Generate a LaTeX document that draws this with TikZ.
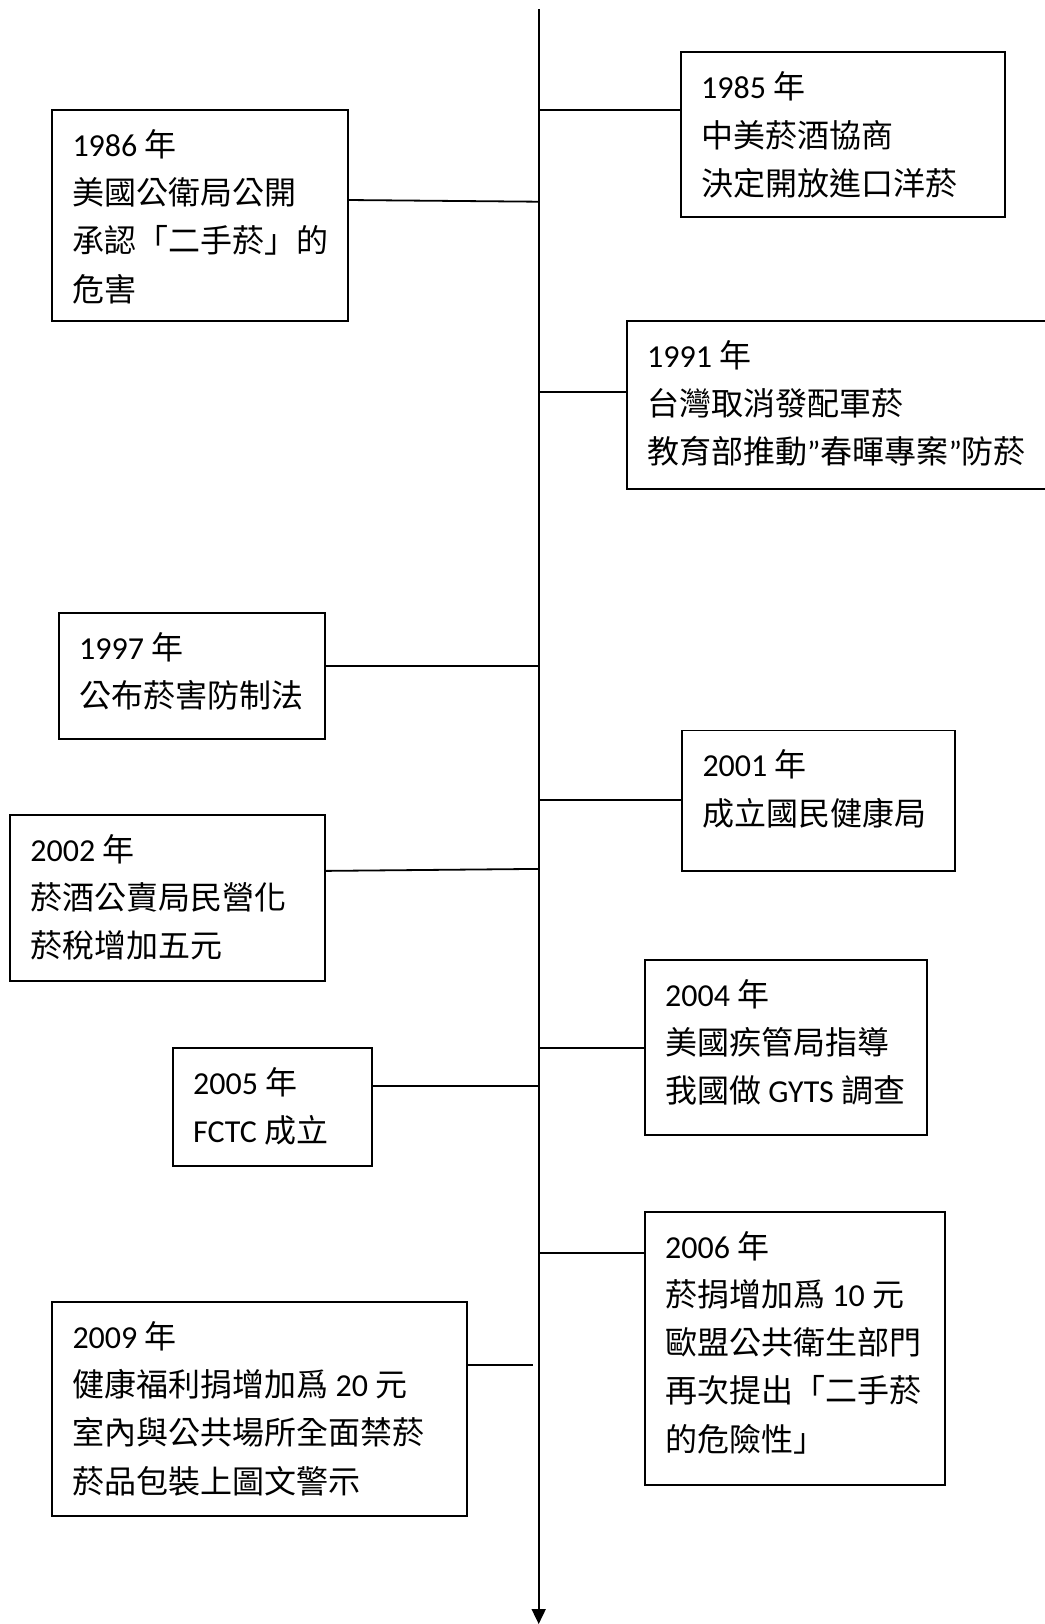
\documentclass[tikz,border=0pt]{standalone}
\usepackage{fontspec}
\setmainfont{Carlito}
\newfontfamily\cjk{Noto Sans CJK TC}
\newcommand\zh[1]{{\cjk #1}}
\usetikzlibrary{arrows.meta,calc}
\begin{document}
\begin{tikzpicture}[x=0.5pt,y=-0.5pt,
  box/.style={draw, line width=0.9pt, inner sep=0pt, outer sep=0pt, anchor=north west},
  wh/.style 2 args={minimum width=#1*0.5pt, minimum height=#2*0.5pt},
  txt/.style={inner sep=0pt, outer sep=0pt, anchor=base west, font=\fontsize{16}{24.1}\selectfont},
  link/.style={line width=0.9pt}]
\useasboundingbox (0,0) rectangle (1045,1624);
\clip (0,0) rectangle (1045,1624);

% axis
\coordinate (top) at (538.7,9.3);
\coordinate (bot) at (538.7,1624);
\draw[link,-{Triangle[width=7pt,length=7.5pt]}] (top) -- (bot);

% boxes
\node[box,wh={324}{164.4}] (b1985) at (680.7,52.3) {};
\node[box,wh={296}{210.7}] (b1986) at (52,110) {};
\node[box,wh={440}{168.3}] (b1991) at (626.7,320.7) {};
\node[box,wh={266}{125.9}] (b1997) at (58.7,612.9) {};
\node[box,wh={272.7}{140.5}] (b2001) at (682,730.4) {};
\node[box,wh={314.7}{166.1}] (b2002) at (10,814.6) {};
\node[box,wh={282}{175.3}] (b2004) at (644.7,959.6) {};
\node[box,wh={199.3}{118.6}] (b2005) at (172.7,1047.7) {};
\node[box,wh={300}{273.3}] (b2006) at (644.7,1211.7) {};
\node[box,wh={414.7}{214}] (b2009) at (52,1302) {};

% texts
\node[txt] (t1985) at ($(b1985.north west)+(20.5,46.5)$) {\begin{tabular}[t]{@{}l@{}}1985 \zh{年}\\ \zh{中美菸酒協商}\\ \zh{決定開放進口洋菸}\end{tabular}};
\node[txt] (t1986) at ($(b1986.north west)+(20.5,46.5)$) {\begin{tabular}[t]{@{}l@{}}1986 \zh{年}\\ \zh{美國公衛局公開}\\ \zh{承認「二手菸」的}\\ \zh{危害}\end{tabular}};
\node[txt] (t1991) at ($(b1991.north west)+(20.5,46.5)$) {\begin{tabular}[t]{@{}l@{}}1991 \zh{年}\\ \zh{台灣取消發配軍菸}\\ \zh{教育部推動}”\zh{春暉專案}”\zh{防菸}\end{tabular}};
\node[txt] (t1997) at ($(b1997.north west)+(20.5,46.5)$) {\begin{tabular}[t]{@{}l@{}}1997 \zh{年}\\ \zh{公布菸害防制法}\end{tabular}};
\node[txt] (t2001) at ($(b2001.north west)+(20.5,46.5)$) {\begin{tabular}[t]{@{}l@{}}2001 \zh{年}\\ \zh{成立國民健康局}\end{tabular}};
\node[txt] (t2002) at ($(b2002.north west)+(20.5,46.5)$) {\begin{tabular}[t]{@{}l@{}}2002 \zh{年}\\ \zh{菸酒公賣局民營化}\\ \zh{菸稅增加五元}\end{tabular}};
\node[txt] (t2004) at ($(b2004.north west)+(20.5,46.5)$) {\begin{tabular}[t]{@{}l@{}}2004 \zh{年}\\ \zh{美國疾管局指導}\\ \zh{我國做} GYTS \zh{調查}\end{tabular}};
\node[txt] (t2005) at ($(b2005.north west)+(20.5,46.5)$) {\begin{tabular}[t]{@{}l@{}}2005 \zh{年}\\ FCTC \zh{成立}\end{tabular}};
\node[txt] (t2006) at ($(b2006.north west)+(20.5,46.5)$) {\begin{tabular}[t]{@{}l@{}}2006 \zh{年}\\ \zh{菸捐增加爲} 10 \zh{元}\\ \zh{歐盟公共衛生部門}\\ \zh{再次提出「二手菸}\\ \zh{的危險性」}\end{tabular}};
\node[txt] (t2009) at ($(b2009.north west)+(20.5,46.5)$) {\begin{tabular}[t]{@{}l@{}}2009 \zh{年}\\ \zh{健康福利捐增加爲} 20 \zh{元}\\ \zh{室內與公共場所全面禁菸}\\ \zh{菸品包裝上圖文警示}\end{tabular}};

% connectors
\coordinate (a1985) at (538.7,110);
\coordinate (a1986) at (538.7,201.7);
\coordinate (c1986) at (348,200);
\coordinate (a1991) at (538.7,392.3);
\coordinate (a1997) at (538.7,665.7);
\coordinate (a2001) at (538.7,800);
\coordinate (a2002) at (538.7,868.9);
\coordinate (c2002) at (324.7,870.9);
\coordinate (a2004) at (538.7,1047.7);
\coordinate (a2005) at (538.7,1086.3);
\coordinate (a2006) at (538.7,1252.7);
\coordinate (a2009) at (533.3,1365);

\draw[link] (a1985) -- (b1985.west |- a1985);
\draw[link] (b1986.east |- c1986) -- (a1986);
\draw[link] (a1991) -- (b1991.west |- a1991);
\draw[link] (b1997.east |- a1997) -- (a1997);
\draw[link] (a2001) -- (b2001.west |- a2001);
\draw[link] (b2002.east |- c2002) -- (a2002);
\draw[link] (a2004) -- (b2004.west |- a2004);
\draw[link] (b2005.east |- a2005) -- (a2005);
\draw[link] (a2006) -- (b2006.west |- a2006);
\draw[link] (b2009.east |- a2009) -- (a2009);
\end{tikzpicture}
\end{document}
